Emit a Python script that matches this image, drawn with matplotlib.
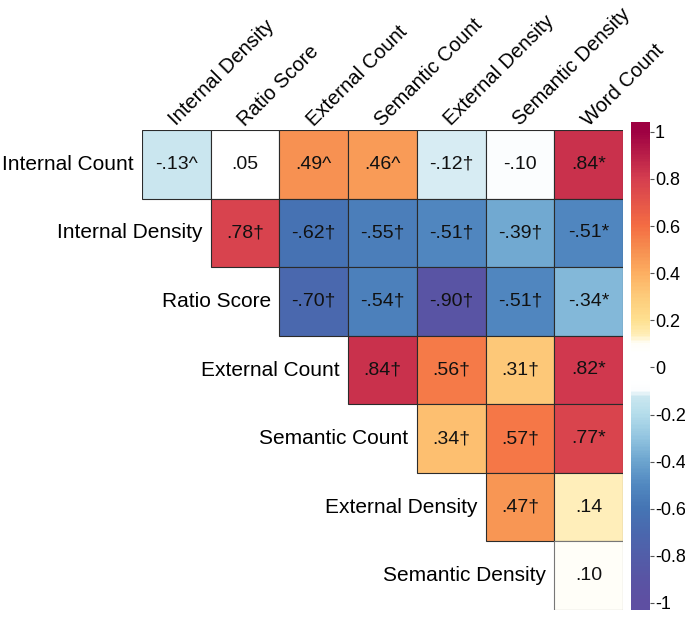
import matplotlib
matplotlib.use("Agg")
import matplotlib.pyplot as plt
import numpy as np
from matplotlib.colors import LinearSegmentedColormap, Normalize
from matplotlib.patches import Rectangle

plt.rcParams['font.family'] = ['Liberation Sans', 'DejaVu Sans']
plt.rcParams['axes.unicode_minus'] = False

row_names = ["Internal Count", "Internal Density", "Ratio Score", "External Count",
             "Semantic Count", "External Density", "Semantic Density"]
col_names = ["Internal Density", "Ratio Score", "External Count", "Semantic Count",
             "External Density", "Semantic Density", "Word Count"]

# upper triangle, row i starts at column i
r_internal_count = [-0.13, 0.05, 0.49, 0.46, -0.12, -0.10, 0.84]
r_internal_density = [0.78, -0.62, -0.55, -0.51, -0.39, -0.51]
r_ratio_score = [-0.70, -0.54, -0.90, -0.51, -0.34]
r_external_count = [0.84, 0.56, 0.31, 0.82]
r_semantic_count = [0.34, 0.57, 0.77]
r_external_density = [0.47, 0.14]
r_semantic_density = [0.10]

m_internal_count = ["^", "", "^", "^", "†", "", "*"]
m_internal_density = ["†", "†", "†", "†", "†", "*"]
m_ratio_score = ["†", "†", "†", "†", "*"]
m_external_count = ["†", "†", "†", "*"]
m_semantic_count = ["†", "†", "*"]
m_external_density = ["†", ""]
m_semantic_density = [""]

rows = [r_internal_count, r_internal_density, r_ratio_score, r_external_count,
        r_semantic_count, r_external_density, r_semantic_density]
marks = [m_internal_count, m_internal_density, m_ratio_score, m_external_count,
         m_semantic_count, m_external_density, m_semantic_density]

cbar_ticks = [1, 0.8, 0.6, 0.4, 0.2, 0, -0.2, -0.4, -0.6, -0.8, -1]
cbar_labels = ["1", "0.8", "0.6", "0.4", "0.2", "0", "-0.2", "-0.4", "-0.6", "-0.8", "-1"]

# colour nodes: spectral-ish with white middle
nodes = [
    (-1.0, "#5E4FA2"), (-0.9, "#5954A4"), (-0.7, "#4A68AE"), (-0.6, "#4575B4"),
    (-0.5, "#5289C1"), (-0.4, "#6DA5CF"), (-0.3, "#93C5E0"), (-0.2, "#B5DDEB"),
    (-0.13, "#C9E6EF"), (-0.1, "#FBFDFE"), (-0.06, "#FFFFFF"), (0.06, "#FFFFFF"),
    (0.1, "#FFFEF8"), (0.14, "#FFEDB5"),
    (0.2, "#FEE090"), (0.3, "#FDCB7A"), (0.4, "#FDAE61"), (0.5, "#F68E50"),
    (0.6, "#F46D43"), (0.8, "#D53E4F"), (1.0, "#9E0142"),
]
cmap = LinearSegmentedColormap.from_list("corr", [((v + 1) / 2, c) for v, c in nodes])
norm = Normalize(-1, 1)


def fmt(v):
    s = "%.2f" % v
    return s.replace("0.", ".", 1)


W, H = 685, 619
fig = plt.figure(figsize=(W / 100, H / 100), dpi=100)
ax = fig.add_axes([142 / W, (H - 610) / H, (623 - 142) / W, (610 - 130) / H])
ax.set_xlim(0, 7)
ax.set_ylim(7, 0)
ax.axis("off")

n = len(rows)
for i in range(n):
    for k, v in enumerate(rows[i]):
        j = i + k
        edge = "#2b2b2b" if i < n - 1 else "#777777"
        ax.add_patch(Rectangle((j, i), 1, 1, facecolor=cmap(norm(v)),
                               edgecolor=edge, linewidth=0.8))
        ax.text(j + 0.5, i + 0.5, fmt(v) + marks[i][k], ha="center", va="center",
                fontsize=14, color="#111111")
    ax.text(i - 0.12, i + 0.5, row_names[i], ha="right", va="center", fontsize=15)

for j, name in enumerate(col_names):
    ax.text(j + 0.5, -0.05, name, rotation=45, rotation_mode="anchor",
            ha="left", va="baseline", fontsize=14.5)

# colour bar
cax = fig.add_axes([631 / W, (H - 610) / H, 19 / W, 488 / H])
lo, hi = -1.030, 1.042
yy = np.linspace(lo, hi, 400)
cax.pcolormesh([0, 1], yy, np.clip(yy[:-1], -1, 1)[:, None], cmap=cmap, norm=norm,
               shading="flat")
cax.set_ylim(lo, hi)
cax.set_xlim(0, 1)
cax.set_xticks([])
cax.yaxis.tick_right()
cax.set_yticks(cbar_ticks)
cax.set_yticklabels(cbar_labels, fontsize=13)
cax.tick_params(axis="y", length=3, width=0.8, pad=0.5, color="#555555")
for sp in cax.spines.values():
    sp.set_visible(False)

fig.savefig("out.png", dpi=100)
